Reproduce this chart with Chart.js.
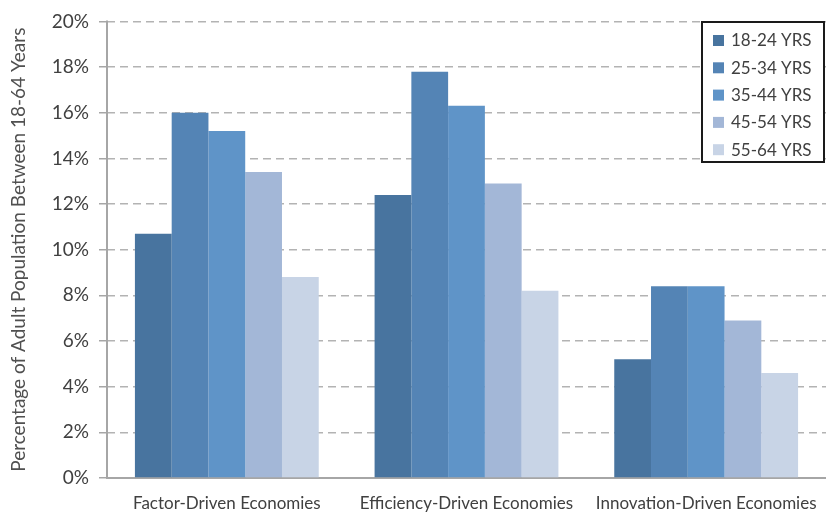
<!DOCTYPE html>
<html>
<head>
<meta charset="utf-8">
<script src="https://cdn.jsdelivr.net/npm/chart.js@4"></script>
<style>
  html, body { margin: 0; padding: 0; background: #fff; }
  #wrap { width: 826px; height: 512px; position: relative; }
</style>
</head>
<body>
<div id="wrap"><canvas id="myChart" width="826" height="512"></canvas></div>
<script>
const categories = ['Factor-Driven Economies', 'Efficiency-Driven Economies', 'Innovation-Driven Economies'];
const ageGroups = ['18-24 YRS', '25-34 YRS', '35-44 YRS', '45-54 YRS', '55-64 YRS'];
const age18to24 = [10.7, 12.4, 5.2];
const age25to34 = [16.0, 17.8, 8.4];
const age35to44 = [15.2, 16.3, 8.4];
const age45to54 = [13.4, 12.9, 6.9];
const age55to64 = [8.8, 8.2, 4.6];
const yTicks = [0, 2, 4, 6, 8, 10, 12, 14, 16, 18, 20];

const colors = ['#48749f', '#5484b5', '#5f94c8', '#a3b7d7', '#c8d4e6'];
const font = 'Lato';
const textColor = '#404040';

const series = [age18to24, age25to34, age35to44, age45to54, age55to64];

// solid y axis line (border.dash would make it dashed like the grid)
const yAxisLine = {
    id: 'yAxisLine',
    afterDatasetsDraw(chart) {
        const c = chart.ctx, a = chart.chartArea;
        c.save();
        c.strokeStyle = '#a6a6a6';
        c.lineWidth = 2;
        c.beginPath();
        c.moveTo(a.left, a.top - 1);
        c.lineTo(a.left, a.bottom);
        c.stroke();
        c.restore();
    }
};

// legend with a black frame, drawn by hand
const boxLegend = {
    id: 'boxLegend',
    afterDraw(chart) {
        const c = chart.ctx;
        const x = 702, y = 22, w = 122, h = 140;
        c.save();
        c.fillStyle = '#fff';
        c.fillRect(x, y, w, h);
        c.strokeStyle = '#1a1a1a';
        c.lineWidth = 2;
        c.strokeRect(x, y, w, h);
        c.font = '17px "' + font + '"';
        c.textBaseline = 'middle';
        chart.data.datasets.forEach((ds, i) => {
            const cy = y + 18 + i * 27.3;
            c.fillStyle = ds.backgroundColor;
            c.fillRect(x + 11, cy - 5, 11, 11);
            c.fillStyle = textColor;
            c.fillText(ds.label, x + 29, cy + 1);
        });
        c.restore();
    }
};

const ctx = document.getElementById('myChart').getContext('2d');
new Chart(ctx, {
    type: 'bar',
    data: {
        labels: categories,
        datasets: ageGroups.map((label, i) => ({
            label: label,
            data: series[i],
            backgroundColor: colors[i],
            borderWidth: 0,
            categoryPercentage: 0.767,
            barPercentage: 1
        }))
    },
    options: {
        responsive: false,
        animation: false,
        layout: { padding: { top: 8, right: 0, left: 7, bottom: 0 } },
        plugins: {
            legend: { display: false },
            tooltip: { enabled: false }
        },
        scales: {
            x: {
                grid: { display: false },
                border: { display: true, color: '#a6a6a6', width: 2 },
                ticks: {
                    color: textColor,
                    font: { family: font, size: 17 },
                    padding: 7
                },
                afterFit(scale) { scale.height = 34; }
            },
            y: {
                min: 0,
                max: 20,
                afterBuildTicks(scale) { scale.ticks = yTicks.map(v => ({ value: v })); },
                grid: {
                    color: '#b3b3b3',
                    lineWidth: 1.5,
                    tickLength: 8,
                    tickColor: '#a6a6a6',
                    tickWidth: 1.5,
                    tickBorderDash: []
                },
                border: { display: false, dash: [8, 5] },
                ticks: {
                    color: textColor,
                    font: { family: font, size: 19 },
                    padding: 10,
                    callback: v => v + '%'
                },
                title: {
                    display: true,
                    text: 'Percentage of Adult Population Between 18-64 Years',
                    color: '#505050',
                    font: { family: font, size: 19 },
                    padding: 0
                },
                afterFit(scale) { scale.width = 100; }
            }
        }
    },
    plugins: [yAxisLine, boxLegend]
});
</script>
</body>
</html>
